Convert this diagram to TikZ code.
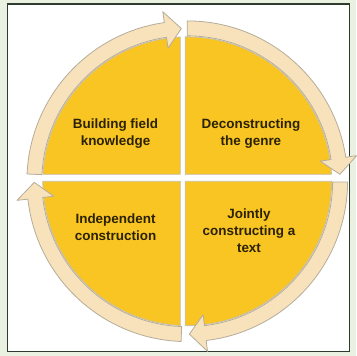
\documentclass[tikz,border=0pt]{standalone}
\usepackage{fontspec}
\newfontfamily\lblfont{Liberation Sans}
\definecolor{framebg}{HTML}{EBF1E1}
\definecolor{frameline}{HTML}{2E3B2E}
\definecolor{quadfill}{HTML}{F9C523}
\definecolor{quadedge}{HTML}{C9C0A6}
\definecolor{bandfill}{HTML}{F8E2BC}
\definecolor{bandedge}{HTML}{B5AC9A}
\definecolor{lbltext}{HTML}{2B2204}
\tikzset{
  quad/.style={fill=quadfill, draw=quadedge, line width=0.8pt},
  band/.style={fill=bandfill, draw=bandedge, line width=0.8pt, line join=round},
  lbl/.style={text=lbltext, align=center, font=\lblfont\bfseries\fontsize{13.5}{17}\selectfont}
}

\begin{document}
\begin{tikzpicture}[x=1pt, y=1pt]
\fill[framebg] (0,0) rectangle (357,357);
\filldraw[fill=white, draw=frameline, line width=1.5pt] (7.5,4) rectangle (351,353);
\coordinate (c) at (188,175);
\begin{scope}[shift={(c)}]
  \foreach \cx/\cy/\a/\b in {-7/7/92.77/177.23, -2/7/2.77/90.79, -2/0/-90.79/0, -7/0/180/267.23}
  {
    \filldraw[quad] (\cx,\cy) -- (\a:145) arc[start angle=\a, end angle=\b, radius=145] -- cycle;
  }
  \foreach \s/\t [evaluate=\t as \h using \t+6] in {177.4/92.2, 90/2.6, -0.3/-89.2, -92.2/-179.6}
  {
    \filldraw[band] (\s:161) arc[start angle=\s, end angle=\h, radius=161] -- (\h:172)
      -- (\t:153.5) -- (\h:135) -- (\h:146) arc[start angle=\h, end angle=\s, radius=146] -- cycle;
  }
\end{scope}
\node[lbl] (build) at (116,223) {Building field\\knowledge};
\node[lbl] (decon) at (252,223) {Deconstructing\\the genre};
\node[lbl] (indep) at (116,129) {Independent\\construction};
\node[lbl] (joint) at (250,125) {Jointly\\constructing a\\text};
\end{tikzpicture}
\end{document}
